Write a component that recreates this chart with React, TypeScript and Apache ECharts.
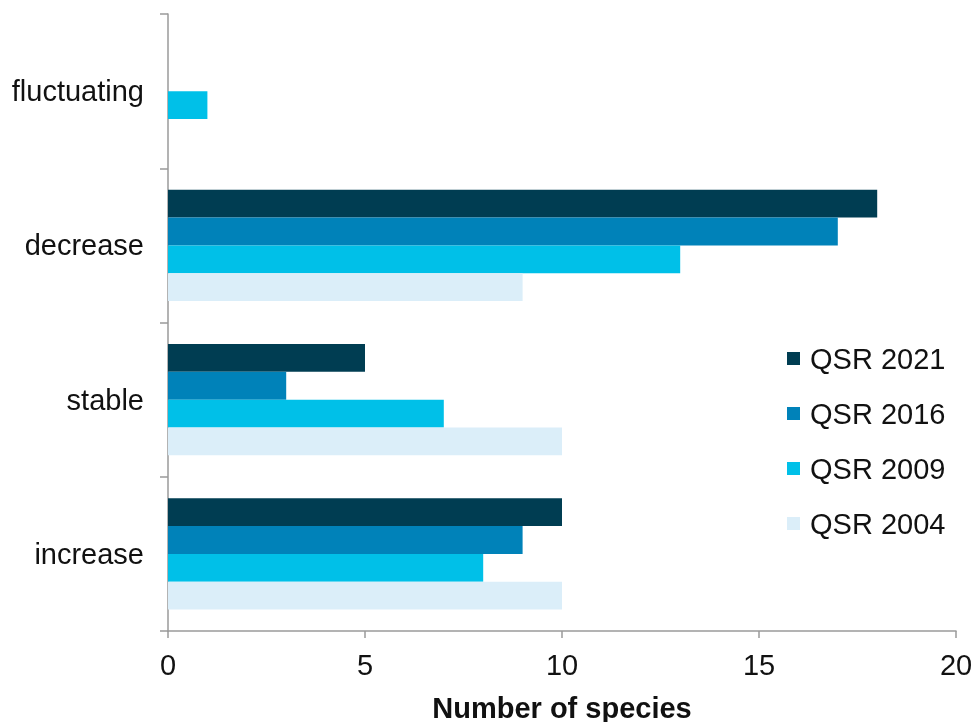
import React, { useEffect, useRef } from "react";
import * as echarts from "echarts";

const categories = ["increase", "stable", "decrease", "fluctuating"];
const seriesNames = ["QSR 2021", "QSR 2016", "QSR 2009", "QSR 2004"];
const qsr2021 = [10, 5, 18, null];
const qsr2016 = [9, 3, 17, null];
const qsr2009 = [8, 7, 13, 1];
const qsr2004 = [10, 10, 9, null];
const colors = ["#003d52", "#0082b9", "#00c0e8", "#dbeef9"];
const xTicks = { min: 0, max: 20, interval: 5 };

export default function App() {
  const ref = useRef<HTMLDivElement>(null);
  useEffect(() => {
    if (!ref.current) return;
    const chart = echarts.init(ref.current, null, { renderer: "svg" });
    const data = [qsr2021, qsr2016, qsr2009, qsr2004];
    const font = "Liberation Sans, Arial, sans-serif";
    chart.setOption({
      animation: false,
      textStyle: { fontFamily: font },
      grid: { left: 168, right: 16, top: 14, bottom: 91, containLabel: false, outerBoundsMode: "none" },
      legend: {
        orient: "vertical",
        left: 782,
        top: 339,
        data: seriesNames,
        icon: "rect",
        itemWidth: 13,
        itemHeight: 13,
        itemGap: 26,
        textStyle: { fontSize: 29, color: "#111", fontFamily: font, padding: [0, 0, 0, 5] },
      },
      xAxis: {
        type: "value",
        min: xTicks.min,
        max: xTicks.max,
        interval: xTicks.interval,
        splitLine: { show: false },
        axisLine: { show: true, lineStyle: { color: "#9a9a9a", width: 1.5 } },
        axisTick: { show: true, length: 7, lineStyle: { color: "#9a9a9a", width: 1.5 } },
        axisLabel: { fontSize: 29, color: "#111", margin: 19, fontFamily: font },
        name: "Number of species",
        nameLocation: "middle",
        nameGap: 62,
        nameTextStyle: { fontSize: 29, fontWeight: "bold", color: "#111", fontFamily: font },
      },
      yAxis: {
        type: "category",
        data: categories,
        axisLine: { show: true, lineStyle: { color: "#9a9a9a", width: 1.5 } },
        axisTick: { show: true, length: 8, alignWithLabel: false, lineStyle: { color: "#9a9a9a", width: 1.5 } },
        axisLabel: { fontSize: 29, color: "#111", margin: 24, fontFamily: font },
      },
      series: seriesNames.map((name, i) => ({
        name,
        type: "bar",
        data: data[i],
        barGap: "0%",
        barCategoryGap: "28%",
        itemStyle: { color: colors[i] },
      })),
    });
    return () => chart.dispose();
  }, []);
  return <div ref={ref} style={{ position: "fixed", left: 0, top: 0, width: "100vw", height: "100vh" }} />;
}
